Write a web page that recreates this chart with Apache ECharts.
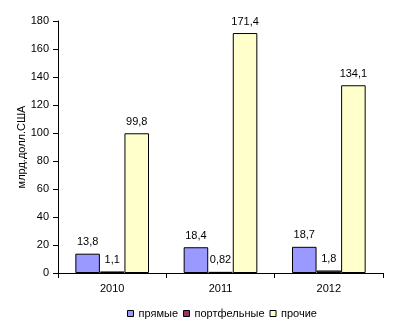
<!DOCTYPE html>
<html><head><meta charset="utf-8">
<script src="https://cdn.jsdelivr.net/npm/echarts@6/dist/echarts.min.js"></script>
<style>html,body{margin:0;padding:0;background:#fff}#c{width:394px;height:328px}</style>
</head><body><div id="c"></div>
<script>
var categories = ['2010', '2011', '2012'];
var seriesNames = ['прямые', 'портфельные', 'прочие'];
var direct = [13.8, 18.4, 18.7];
var portfolio = [1.1, 0.82, 1.8];
var other = [99.8, 171.4, 134.1];
var yTicks = [0, 20, 40, 60, 80, 100, 120, 140, 160, 180];
var colors = ['#9999FF', '#993366', '#FFFFCC'];
var font = 'Liberation Sans, Arial, sans-serif';
function fmt(p){ return String(p.value).replace('.', ','); }
function mk(name, data, color){
  return {
    name: name, type: 'bar', data: data, barGap: '0%', barCategoryGap: '32%',
    itemStyle: {color: color, borderColor: '#000', borderWidth: 1},
    label: {show: true, position: 'top', distance: 6, formatter: fmt, color: '#000', fontSize: 11, fontFamily: font}
  };
}
var chart = echarts.init(document.getElementById('c'));
chart.setOption({
  animation: false,
  textStyle: {fontFamily: font},
  grid: {left: 58, right: 11, top: 21, bottom: 55},
  legend: {
    top: 303, left: 122, itemWidth: 6, itemHeight: 6, itemGap: 5,
    icon: 'rect', textStyle: {fontSize: 11, color: '#000', fontFamily: font},
    itemStyle: {borderColor: '#000', borderWidth: 1},
    data: seriesNames
  },
  xAxis: {
    type: 'category', data: categories,
    axisLine: {lineStyle: {color: '#000', width: 1}},
    axisTick: {show: true, length: 5, lineStyle: {color: '#000'}},
    axisLabel: {color: '#000', fontSize: 11, margin: 10, fontFamily: font}
  },
  yAxis: {
    type: 'value', min: yTicks[0], max: yTicks[yTicks.length - 1], interval: 20,
    name: 'млрд.долл.США', nameLocation: 'middle', nameGap: 31, nameRotate: 90,
    nameMoveOverlap: false,
    nameTextStyle: {color: '#000', fontSize: 11, fontFamily: font},
    axisLine: {show: true, lineStyle: {color: '#000', width: 1}},
    axisTick: {show: true, length: 5, lineStyle: {color: '#000'}},
    axisLabel: {color: '#000', fontSize: 11, margin: 9, fontFamily: font},
    splitLine: {show: false}
  },
  series: [mk(seriesNames[0], direct, colors[0]), mk(seriesNames[1], portfolio, colors[1]), mk(seriesNames[2], other, colors[2])]
});
</script></body></html>
